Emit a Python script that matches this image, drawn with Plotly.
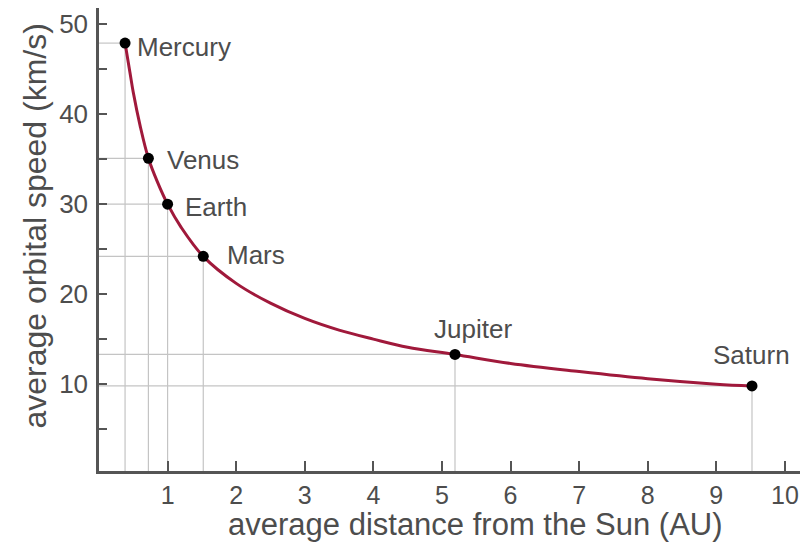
import plotly.graph_objects as go

# Planet data
planets = ["Mercury", "Venus", "Earth", "Mars", "Jupiter", "Saturn"]
distance_au = [0.38, 0.72, 1.0, 1.52, 5.19, 9.52]
speed_kms = [47.9, 35.1, 30.0, 24.2, 13.3, 9.8]

# Curve readings
curve_x = [0.38, 0.45, 0.5, 0.6, 0.72, 0.85, 1.0, 1.2, 1.52, 2.0, 2.5, 3.0, 3.5,
           4.0, 4.5, 5.19, 6.0, 7.0, 8.0, 9.0, 9.52]
curve_y = [47.9, 44.7, 42.4, 38.7, 35.1, 32.5, 30.0, 27.4, 24.2, 21.2, 19.0, 17.3, 16.0,
           15.0, 14.1, 13.3, 12.3, 11.4, 10.6, 10.0, 9.8]

x_tickvals = [1, 2, 3, 4, 5, 6, 7, 8, 9, 10]
y_tickvals = [5, 10, 15, 20, 25, 30, 35, 40, 45, 50]
y_ticktext = ["", "10", "", "20", "", "30", "", "40", "", "50"]

x_title = "average distance from the Sun (AU)"
y_title = "average orbital speed (km/s)"

# label offsets (px) for each planet: (xshift, yshift, xanchor, yanchor)
label_pos = {
    "Mercury": (10, -4, "left", "middle"),
    "Venus": (17, -2, "left", "middle"),
    "Earth": (15, -3, "left", "middle"),
    "Mars": (22, 1, "left", "middle"),
    "Jupiter": (18, 8, "center", "bottom"),
    "Saturn": (0, 14, "center", "bottom"),
}

FONT = "Liberation Sans, Arial, sans-serif"
TEXT = "#4d4d4d"
AXIS = "#555555"
GUIDE = "#c4c4c4"

fig = go.Figure()

shapes = []
for x, y in zip(distance_au, speed_kms):
    shapes.append(dict(type="line", xref="x", yref="y", x0=0, x1=x, y0=y, y1=y,
                       line=dict(color=GUIDE, width=1.2), layer="below"))
    shapes.append(dict(type="line", xref="x", yref="y", x0=x, x1=x, y0=0.35, y1=y,
                       line=dict(color=GUIDE, width=1.2), layer="below"))

fig.add_trace(go.Scatter(x=curve_x, y=curve_y, mode="lines",
                         line=dict(color="#a0193b", width=3, shape="spline", smoothing=1.0),
                         hoverinfo="skip", showlegend=False))
fig.add_trace(go.Scatter(x=distance_au, y=speed_kms, mode="markers",
                         marker=dict(color="black", size=11),
                         text=planets, showlegend=False))

annotations = []
for name, x, y in zip(planets, distance_au, speed_kms):
    xs, ys, xa, ya = label_pos[name]
    annotations.append(dict(x=x, y=y, xref="x", yref="y", text=name, showarrow=False,
                            xanchor=xa, yanchor=ya, xshift=xs, yshift=ys,
                            font=dict(family=FONT, size=26, color=TEXT)))

# axis titles
annotations.append(dict(x=0.537, y=0, xref="paper", yref="paper", text=x_title,
                        showarrow=False, xanchor="center", yanchor="middle", yshift=-53,
                        font=dict(family=FONT, size=31, color=TEXT)))
annotations.append(dict(x=0, y=0.53, xref="paper", yref="paper", text=y_title,
                        showarrow=False, xanchor="center", yanchor="middle", xshift=-64,
                        textangle=-90, font=dict(family=FONT, size=32, color=TEXT)))

fig.update_layout(
    width=809, height=553,
    margin=dict(l=99, r=9, t=8, b=82),
    paper_bgcolor="white", plot_bgcolor="white",
    shapes=shapes, annotations=annotations,
    font=dict(family=FONT, color=TEXT),
    xaxis=dict(range=[0, 10.22], tickvals=x_tickvals, ticks="inside", ticklen=10,
               tickwidth=2, tickcolor=AXIS, showline=True, linecolor=AXIS, linewidth=2.5,
               showgrid=False, zeroline=False, tickfont=dict(size=25, color=TEXT),
               automargin=False),
    yaxis=dict(range=[0.35, 51.8], tickvals=y_tickvals, ticktext=y_ticktext,
               ticks="inside", ticklen=8, tickwidth=2, tickcolor=AXIS,
               showline=True, linecolor=AXIS, linewidth=2.5, showgrid=False,
               zeroline=False, tickfont=dict(size=26, color=TEXT), ticklabelstandoff=3,
               automargin=False),
)

fig.write_html("out.html", config={"displayModeBar": False},
               post_script="document.body.style.margin='0';")
